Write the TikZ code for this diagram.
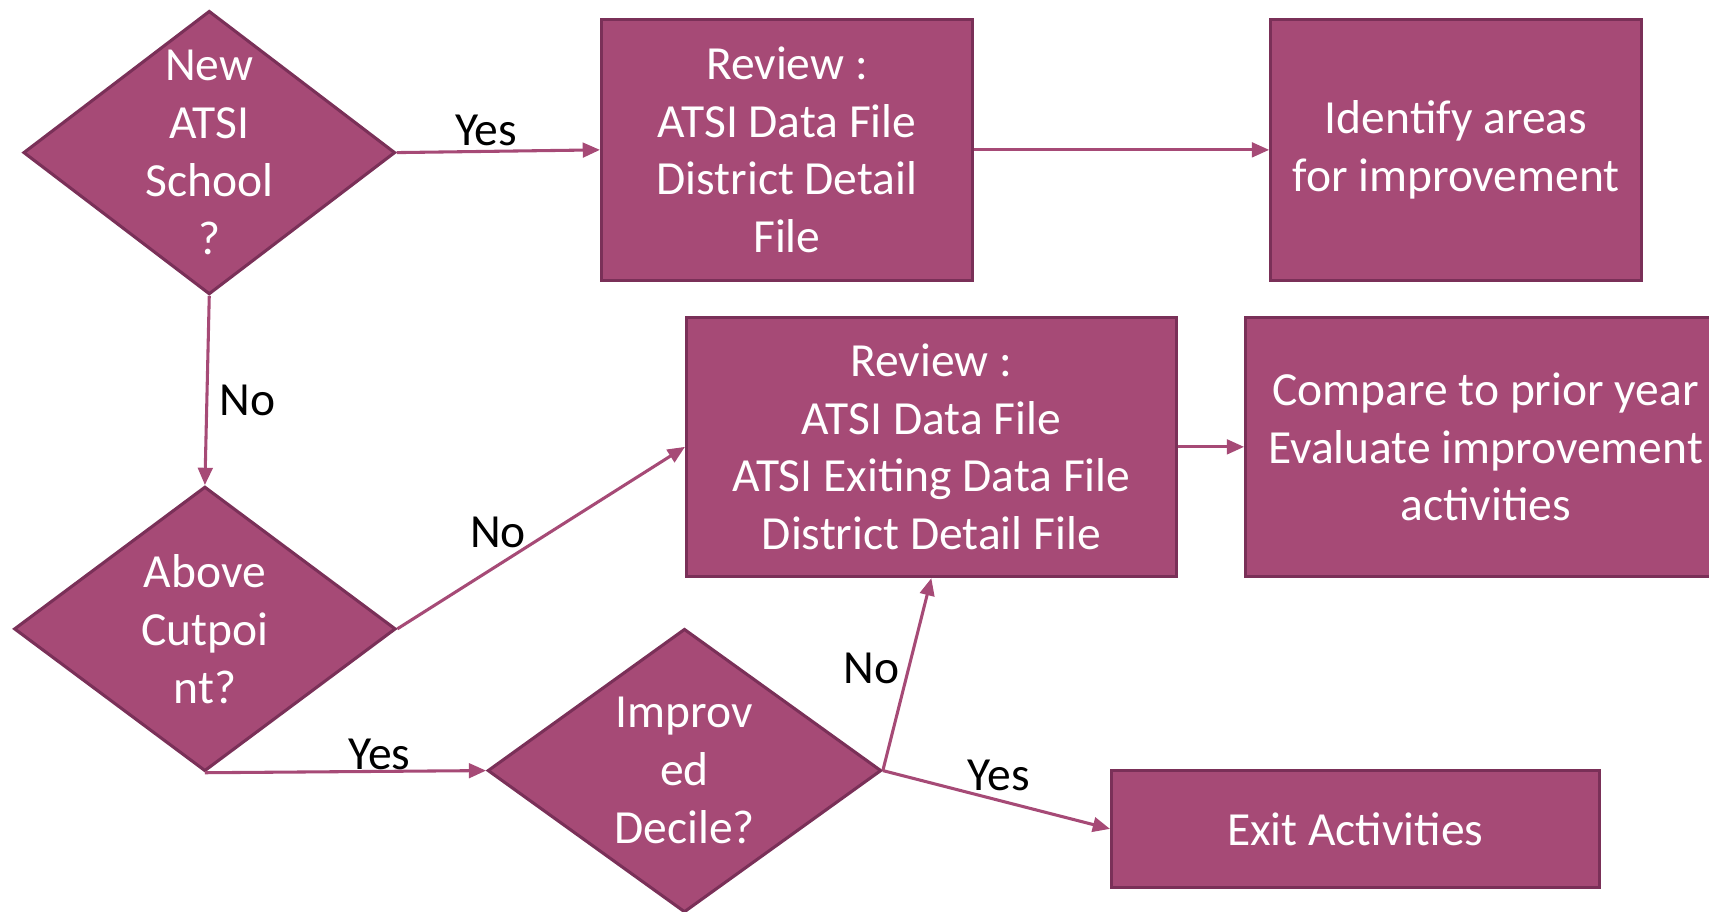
\documentclass[tikz,border=0pt]{standalone}
\usepackage{fontspec}
\setmainfont{Carlito}
\usetikzlibrary{shapes.geometric,arrows.meta}
\definecolor{plumfill}{RGB}{166,74,118}
\definecolor{plumdraw}{RGB}{122,48,88}
\begin{document}
\begin{tikzpicture}[
    x=0.01cm, y=-0.01cm,
    every node/.style={font=\fontsize{12.4pt}{15.1pt}\selectfont},
    BoxShape/.style={rectangle, draw=plumdraw, line width=0.8pt,
        fill=plumfill, text=white, align=center, inner sep=0pt},
    DecisionShape/.style={diamond, draw=plumdraw, line width=0.8pt,
        fill=plumfill, inner sep=0pt},
    DecisionText/.style={text=white, align=center, inner sep=0pt},
    flow/.style={draw=plumfill, line width=0.8pt,
        -{Triangle[length=4.5pt,width=3.8pt]}},
    answer/.style={text=black, inner sep=2pt}
]
\useasboundingbox (0,0) rectangle (1568,836);

% decisions
\node (newschool) [DecisionShape, minimum width=3.41cm, minimum height=2.6cm,
    label={[DecisionText]center:New\\ATSI\\School\\?}] at (192,140) {};
\node (cutpoint) [DecisionShape, minimum width=3.5cm, minimum height=2.61cm,
    label={[DecisionText]center:Above\\Cutpoi\\nt?}] at (188,577) {};
\node (decile) [DecisionShape, minimum width=3.61cm, minimum height=2.6cm,
    label={[DecisionText]center:Improv\\ed\\Decile?}] at (628,707) {};

% boxes
\node (reviewnew) [BoxShape, minimum width=3.4cm, minimum height=2.39cm]
    at (722,137.5) {Review :\\ATSI Data File\\District Detail\\File};
\node (identify) [BoxShape, minimum width=3.4cm, minimum height=2.39cm]
    at (1336,137.5) {Identify areas\\for improvement};
\node (reviewall) [BoxShape, minimum width=4.49cm, minimum height=2.38cm]
    at (854.5,410) {Review :\\ATSI Data File\\ATSI Exiting Data File\\District Detail File};
\node (compare) [BoxShape, minimum width=4.4cm, minimum height=2.38cm]
    at (1363,410) {Compare to prior year\\Evaluate improvement\\activities};
\node (exit) [BoxShape, minimum width=4.47cm, minimum height=1.07cm]
    at (1243.5,760.5) {Exit Activities};

% connectors
\draw [flow] (newschool.east) -- node[answer, pos=0.44, above=-1pt] {Yes} (reviewnew.west);
\draw [flow] (reviewnew.east) -- (identify.west);
\draw [flow] (newschool.south) -- node[answer, pos=0.55, right=1pt] {No} (cutpoint.north);
\draw [flow] (cutpoint.east) -- node[answer, pos=0.35, above=2pt] {No} (reviewall.west);
\draw [flow] (reviewall.east) -- (compare.west);
\draw [flow] (cutpoint.south) -- node[answer, pos=0.62, above=-2pt] {Yes} (decile.west);
\draw [flow] (decile.east) -- node[answer, pos=0.53, left=0pt] {No} (reviewall.south);
\draw [flow] (decile.east) -- node[answer, pos=0.51, above=0pt] {Yes} (exit.west);
\end{tikzpicture}
\end{document}
